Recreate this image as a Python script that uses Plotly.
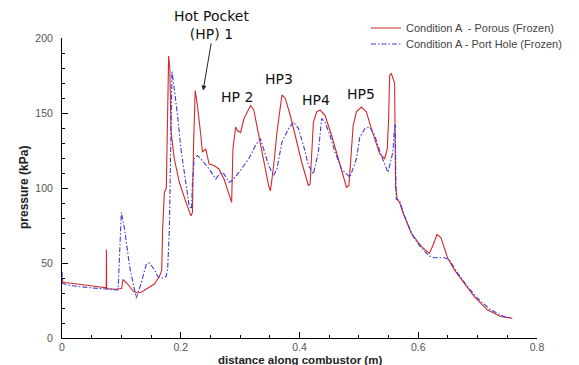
import plotly.graph_objects as go

# Wall pressure along the combustor, porous injector case
x_porous = [0.0, 0.0008, 0.005, 0.030, 0.055, 0.0745, 0.0748, 0.0753, 0.0887, 0.1004,
            0.1026, 0.1105, 0.1205, 0.1277, 0.1334, 0.144, 0.1556, 0.164, 0.1679, 0.1695,
            0.1724, 0.1757, 0.1774, 0.1796, 0.1816, 0.1836, 0.1891, 0.1975, 0.2087, 0.2171,
            0.2197, 0.2214, 0.2243, 0.2281, 0.2338, 0.2365, 0.2422, 0.2477, 0.2561, 0.2644,
            0.2728, 0.2812, 0.2857, 0.2879, 0.2924, 0.2951, 0.3008, 0.3063, 0.3175, 0.323,
            0.3314, 0.3397, 0.3481, 0.351, 0.3565, 0.362, 0.3704, 0.3761, 0.3844, 0.3928,
            0.4038, 0.4151, 0.4179, 0.4234, 0.429, 0.4346, 0.443, 0.4541, 0.4653, 0.4792,
            0.4832, 0.4904, 0.4959, 0.5043, 0.5126, 0.521, 0.5351, 0.5434, 0.5478, 0.5501,
            0.5518, 0.5545, 0.5602, 0.5618, 0.5645, 0.5685, 0.5741, 0.588, 0.6047, 0.6188,
            0.6243, 0.6315, 0.6382, 0.6494, 0.6606, 0.6773, 0.6941, 0.7163, 0.7386, 0.7582]
p_porous = [40, 37.5, 37, 36, 34.5, 33.5, 59, 33, 32.5, 33,
            39, 36, 31, 30, 30.5, 33, 36, 41, 45, 72.5,
            97, 100, 140, 188, 180, 137.6, 119.5, 104, 90.6, 81.4,
            83.7, 126, 165, 155, 135, 124, 126, 116, 115, 112.7,
            106, 95, 90.4, 126, 140.7, 138.5, 137, 146, 155, 152,
            135, 117, 101.5, 98, 115, 137, 162, 159.7, 148.5, 135,
            117, 101.5, 102.7, 144, 150.8, 152, 148.5, 135, 119.5, 100.5,
            101.6, 141.8, 150.8, 154, 150.8, 139.6, 122.8, 119.5, 126, 146,
            175, 176.5, 170, 101.6, 92.6, 90.4, 83.7, 70, 61.3, 56.4,
            61.3, 69, 66.9, 53.5, 45.6, 36.7, 27.7, 18.8, 14.3, 13.2]

# Wall pressure along the combustor, port hole injector case
x_porthole = [0.0, 0.0008, 0.0134, 0.0469, 0.0942, 0.0954, 0.0999, 0.1054, 0.1138, 0.1222,
              0.125, 0.1334, 0.1418, 0.1473, 0.1556, 0.1612, 0.1695, 0.1752, 0.1779, 0.1808,
              0.1833, 0.1853, 0.1891, 0.1946, 0.2003, 0.2087, 0.2142, 0.2181, 0.2197, 0.2226,
              0.2281, 0.2365, 0.2477, 0.2589, 0.2673, 0.2728, 0.2812, 0.2867, 0.2979, 0.3146,
              0.3259, 0.3342, 0.3397, 0.3481, 0.3565, 0.362, 0.3704, 0.3816, 0.39, 0.3983,
              0.4067, 0.4151, 0.4234, 0.4318, 0.4373, 0.443, 0.4514, 0.4597, 0.4708, 0.4849,
              0.4959, 0.5016, 0.51, 0.5183, 0.5267, 0.5377, 0.549, 0.5573, 0.5602, 0.5612,
              0.5628, 0.5685, 0.5769, 0.5908, 0.6047, 0.6188, 0.6271, 0.6438, 0.6522, 0.6661,
              0.6828, 0.6996, 0.7218, 0.7443, 0.7582]
p_porthole = [44, 36.5, 35, 33.5, 32, 40, 83.7, 72.5, 47.9, 30,
              26.6, 36.7, 49, 50, 45.6, 41, 40, 41, 45.6, 72.5,
              130, 177.6, 166, 148.5, 126, 103.8, 88, 86, 103.8, 119.5,
              121.7, 118.3, 112.7, 106, 110.4, 109.4, 103.8, 105, 110.4, 119.5,
              128.4, 132.9, 126, 115, 108.3, 112.7, 130.6, 139.6, 144, 139.6,
              128.4, 115, 109.4, 124, 146.3, 144, 135, 124, 112.7, 107.2,
              119.5, 134, 139.6, 140.7, 135, 121.7, 110.4, 124, 141.8, 141.8,
              92.6, 91.5, 81.4, 68, 60.2, 54.6, 53.5, 53.5, 52.3, 43.4,
              34.4, 26.6, 18.8, 14.3, 13.2]

series_names = ["Condition A \u00a0- Porous (Frozen)", "Condition A - Port Hole (Frozen)"]

x_ticks = [0, 0.2, 0.4, 0.6, 0.8]
x_ticklabels = ["0", "0.2", "0.4", "0.6", "0.8"]
y_ticks = [0, 50, 100, 150, 200]
y_ticklabels = ["0", "50", "100", "150", "200"]

hp_labels = ["HP 2", "HP3", "HP4", "HP5"]
hp_x = [0.2946, 0.3649, 0.4284, 0.5038]
hp_y = [161, 173, 159, 163]

RED = "#d02a2a"
BLUE = "#4038dc"
SANS = "Liberation Sans, Arial, sans-serif"
TICK_FONT = dict(family=SANS, size=10.5, color="#555555")
LEGEND_FONT = dict(family=SANS, size=11, color="#444444")

fig = go.Figure()
fig.add_trace(go.Scatter(x=x_porous, y=p_porous, mode="lines", name=series_names[0],
                         line=dict(color=RED, width=1.1), legend="legend"))
fig.add_trace(go.Scatter(x=x_porthole, y=p_porthole, mode="lines", name=series_names[1],
                         line=dict(color=BLUE, width=1.1, dash="5px,2px,1.5px,2px"),
                         legend="legend2"))

axis_common = dict(showgrid=False, zeroline=False, showline=True, linecolor="black",
                   linewidth=1, ticks="inside", ticklen=6, tickcolor="black",
                   tickfont=TICK_FONT, mirror=False)

fig.update_xaxes(range=[0, 0.8], tickvals=x_ticks, ticktext=x_ticklabels,
                 minor=dict(dtick=0.05, ticks="inside", ticklen=3, tickcolor="black"),
                 ticklabelstandoff=-1, **axis_common)
fig.update_yaxes(range=[0, 200], tickvals=y_ticks, ticktext=y_ticklabels,
                 minor=dict(dtick=10, ticks="inside", ticklen=3, tickcolor="black"),
                 ticklabelstandoff=6, **axis_common)

annotations = [
    dict(text="<b>distance along combustor (m)</b>", xref="paper", yref="paper",
         x=0.5, y=0, yshift=-22, showarrow=False, yanchor="middle",
         font=dict(family=SANS, size=11.5, color="#222222")),
    dict(text="<b>pressure (kPa)</b>", xref="paper", yref="paper",
         x=0, y=0.5, xshift=-38, textangle=-90, showarrow=False, xanchor="center",
         font=dict(family=SANS, size=12, color="#222222")),
    dict(text="Hot Pocket<br>(HP) 1", xref="x", yref="y", x=0.2377, y=165,
         ax=8, ay=-47, axref="pixel", ayref="pixel", showarrow=True, arrowhead=2,
         arrowsize=1, arrowwidth=1, arrowcolor="#222222", yanchor="bottom",
         font=dict(family="DejaVu Sans, sans-serif", size=14, color="#111111")),
]
for lab, hx, hy in zip(hp_labels, hp_x, hp_y):
    annotations.append(dict(text=lab, xref="x", yref="y", x=hx, y=hy, showarrow=False,
                            font=dict(family="DejaVu Sans, sans-serif", size=14,
                                      color="#111111")))

fig.update_layout(
    width=579, height=365,
    margin=dict(l=62, r=39, t=38, b=27),
    paper_bgcolor="white", plot_bgcolor="white",
    showlegend=True,
    legend=dict(x=0.64, y=1.0817, xanchor="left", yanchor="top",
                bgcolor="rgba(0,0,0,0)", font=LEGEND_FONT),
    legend2=dict(x=0.64, y=1.0283, xanchor="left", yanchor="top",
                 bgcolor="rgba(0,0,0,0)", font=LEGEND_FONT),
    annotations=annotations,
)

fig.write_html("out.html")
